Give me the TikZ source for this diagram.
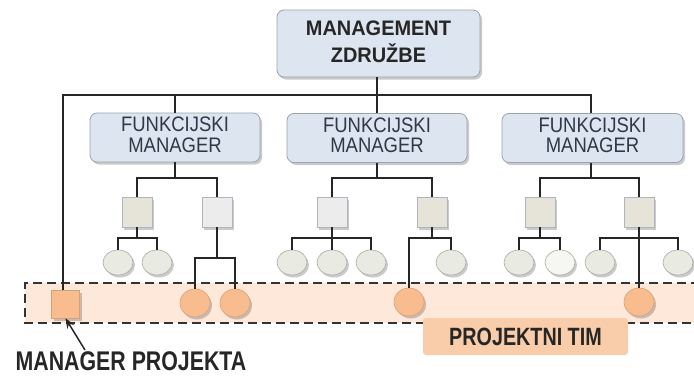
\documentclass[tikz,border=0pt]{standalone}
\usepackage{fontspec}
\setmainfont{Liberation Sans}
\usepackage{graphicx}
\usetikzlibrary{shadows,arrows.meta}
\definecolor{boxfill}{HTML}{DCE5F0}
\definecolor{boxdraw}{HTML}{9AA3AE}
\definecolor{sqfillA}{HTML}{E6E4D8}
\definecolor{sqfillB}{HTML}{ECECEC}
\definecolor{ovfill}{HTML}{E9EAE2}
\definecolor{ovdraw}{HTML}{A8AAA2}
\definecolor{orfill}{HTML}{F9BC8E}
\definecolor{ordraw}{HTML}{D9A075}
\definecolor{band}{HTML}{FDE8DA}
\definecolor{labfill}{HTML}{F9CDAA}
\definecolor{fmtext}{HTML}{303848}
\newcommand{\cond}[2]{\scalebox{#1}[1]{#2}}
\tikzset{
  shad/.style={drop shadow={shadow xshift=2pt,shadow yshift=-2.5pt,opacity=0.35,fill=black!60}},
  mgrbox/.style={draw=boxdraw,fill=boxfill,rounded corners=7pt,shad,inner sep=0pt,line width=0.8pt},
  sqbox/.style={draw=boxdraw!80,fill=sqfillA,minimum width=30pt,minimum height=30pt,inner sep=0pt,shad,line width=0.6pt},
  ovbox/.style={ellipse,draw=ovdraw,fill=ovfill,minimum width=30pt,minimum height=25pt,inner sep=0pt,shad,line width=0.6pt},
  orbox/.style={ellipse,draw=ordraw,fill=orfill,minimum width=30pt,minimum height=28pt,inner sep=0pt,shad,line width=0.6pt},
  conn/.style={line width=1.3pt,black!85},
}
\usetikzlibrary{shapes.geometric}
\begin{document}
\begin{tikzpicture}[x=1pt,y=-1pt]
\useasboundingbox (0,0) rectangle (694,378);
% project team band
\fill[band] (25,283) rectangle (700,323);
\draw[dashed,dash pattern=on 9pt off 5pt,line width=1.2pt,black!80] (700,283) -- (25,283) -- (25,323) -- (700,323);
% management boxes
\node[mgrbox,minimum width=203pt,minimum height=67pt] (top) at (378.5,43.5)
  {\cond{0.95}{\fontsize{21}{26}\selectfont\bfseries\color{black!85}\begin{tabular}{@{}c@{}}MANAGEMENT\\ZDRUŽBE\end{tabular}}};
\node[mgrbox,minimum width=170pt,minimum height=49pt] (fm1) at (175,137.5)
  {\cond{0.88}{\fontsize{21}{20}\selectfont\color{fmtext}\begin{tabular}{@{}c@{}}FUNKCIJSKI\\MANAGER\end{tabular}}};
\node[mgrbox,minimum width=180pt,minimum height=49pt] (fm2) at (377,138)
  {\cond{0.88}{\fontsize{21}{20}\selectfont\color{fmtext}\begin{tabular}{@{}c@{}}FUNKCIJSKI\\MANAGER\end{tabular}}};
\node[mgrbox,minimum width=181pt,minimum height=49pt] (fm3) at (592.5,138)
  {\cond{0.88}{\fontsize{21}{20}\selectfont\color{fmtext}\begin{tabular}{@{}c@{}}FUNKCIJSKI\\MANAGER\end{tabular}}};
% squares
\node[sqbox] (s1a) at (137,212) {};
\node[sqbox,fill=sqfillB] (s1b) at (217,212) {};
\node[sqbox,fill=sqfillB] (s2a) at (332,212) {};
\node[sqbox] (s2b) at (432,212) {};
\node[sqbox] (s3a) at (540,212) {};
\node[sqbox] (s3b) at (639,212) {};
% ovals
\node[ovbox] (o1) at (118,262.5) {};
\node[ovbox] (o2) at (157,262.5) {};
\node[ovbox] (o3) at (292,262.5) {};
\node[ovbox] (o4) at (332,262.5) {};
\node[ovbox] (o5) at (371,262.5) {};
\node[ovbox] (o6) at (451,262.5) {};
\node[ovbox] (o7) at (519,262.5) {};
\node[ovbox,fill=white!60!ovfill] (o8) at (560,262.5) {};
\node[ovbox] (o9) at (600,262.5) {};
\node[ovbox] (o10) at (678,262.5) {};
% orange team members
\node[draw=ordraw,fill=orfill,minimum width=28pt,minimum height=28pt,inner sep=0pt,shad,line width=0.6pt] (pm) at (65.5,304) {};
\node[orbox] (r1) at (195,303) {};
\node[orbox] (r2) at (235,303) {};
\node[orbox] (r3) at (409,302) {};
\node[orbox] (r4) at (639,302) {};
% bus coordinates
\coordinate (bl) at (63,95);
\coordinate (bm) at (377,95);
\coordinate (br) at (591,95);
\coordinate (b1) at (175,178);
\coordinate (b2) at (377,178);
\coordinate (b3) at (591,178);
% connectors
\draw[conn] (top.south -| bm) -- (bm);
\draw[conn] (pm.north -| bl) -- (bl) -- (br) -- (fm3.north -| br);
\draw[conn] (bm) -- (fm2.north -| bm);
\draw[conn] (175,95) -- (fm1.north -| b1);
% group 1
\draw[conn] (fm1.south -| b1) -- (b1);
\draw[conn] (s1a.north) |- (b1) -| (s1b.north);
\draw[conn] (s1a.south) -- (137,238);
\draw[conn] (o1.north) |- (137,238) -| (o2.north);
\draw[conn] (s1b.south) -- (217,258);
\draw[conn] (r1.north) |- (217,258) -| (r2.north);
% group 2
\draw[conn] (fm2.south -| b2) -- (b2);
\draw[conn] (s2a.north) |- (b2) -| (s2b.north);
\draw[conn] (s2a.south) -- (o4.north);
\draw[conn] (o3.north) |- (332,238) -| (o5.north);
\draw[conn] (s2b.south) -- (432,238);
\draw[conn] (r3.north) |- (432,238) -| (o6.north);
% group 3
\draw[conn] (fm3.south -| b3) -- (b3);
\draw[conn] (s3a.north) |- (b3) -| (s3b.north);
\draw[conn] (s3a.south) -- (540,238);
\draw[conn] (o7.north) |- (540,238) -| (o8.north);
\draw[conn] (s3b.south) -- (r4.north);
\draw[conn] (o9.north) |- (639,238) -| (o10.north);
% labels
\node[fill=labfill,rounded corners=3pt,minimum width=205pt,minimum height=37pt,inner sep=0pt] (team) at (525.5,336.5)
  {\cond{0.79}{\fontsize{25}{25}\selectfont\bfseries\color{black!85}PROJEKTNI TIM}};
\node[inner sep=0pt] (pmlab) at (131,361)
  {\cond{0.79}{\fontsize{27}{27}\selectfont\bfseries\color{black!85}MANAGER PROJEKTA}};
\coordinate (arrtail) at (85,350);
\draw[line width=1.5pt,black!85,-{Stealth[length=10pt,width=8pt]}] (arrtail) -- (pm.south);
\end{tikzpicture}
\end{document}
